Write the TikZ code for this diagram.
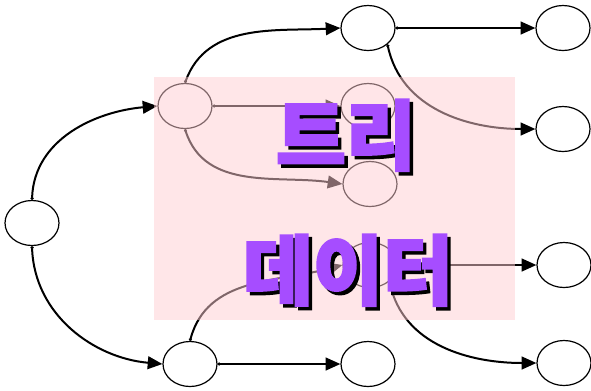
\documentclass[tikz,border=0pt]{standalone}
\usepackage{fontspec}
\newfontfamily\krfont{Noto Sans CJK KR}[BoldFeatures={FakeBold=3}]
\usetikzlibrary{shapes.geometric,arrows.meta}
\definecolor{overlaypink}{RGB}{255,205,210}
\definecolor{titlepurple}{RGB}{166,77,255}
\newcommand{\shadowed}[1]{\makebox[0pt][l]{\hspace{2.6pt}\raisebox{-2.6pt}{\color{black}#1}}{\color{titlepurple}#1}}
\tikzset{
  vtx/.style={ellipse,draw=black,line width=0.9pt,fill=white,minimum width=40.5pt,minimum height=33.75pt,inner sep=0pt},
  edge/.style={line width=1.5pt,{Circle[length=2.2pt]}-{Triangle[length=11pt,width=9.5pt]}},
  title/.style={font=\krfont\bfseries\fontsize{57}{62}\selectfont,inner sep=0pt}
}
\begin{document}
\begin{tikzpicture}[x=0.75pt,y=-0.75pt]
\useasboundingbox (0,0) rectangle (591,390);
% vertices
\node[vtx] (r)  at (32,223)  {};
\node[vtx] (a)  at (185,106) {};
\node[vtx] (b)  at (190,364) {};
\node[vtx] (t1) at (368,28)  {};
\node[vtx] (t2) at (563,28)  {};
\node[vtx] (m1) at (368,106) {};
\node[vtx] (m2) at (370,184) {};
\node[vtx] (d)  at (370,265) {};
\node[vtx] (q2) at (563,129) {};
\node[vtx] (q3) at (564,265) {};
\node[vtx] (b2) at (368,364) {};
\node[vtx] (b3) at (564,363) {};
% connectors
\draw[edge] (r.north) to[out=88,in=185] (a.west);
\draw[edge] (r.south) to[out=-88,in=175] (b.west);
\draw[edge] (a.north) to[out=70,in=183] (t1.west);
\draw[edge] (a.east) -- (m1.west);
\draw[edge] (a.south) to[out=-72,in=172] (m2.west);
\draw[edge] (t1.east) -- (t2.west);
\draw[edge] (t1.-40) to[out=-78,in=180] (q2.west);
\draw[edge] (b.north) to[out=75,in=195] (d.west);
\draw[edge] (b.east) -- (b2.west);
\draw[edge] (d.east) -- (q3.west);
\draw[edge] (d.-40) to[out=-78,in=180] (b3.west);
% translucent panel
\fill[overlaypink,opacity=0.5] (154,77) rectangle (515,320);
% title with drop shadow
\node[title] (w1) at (346,137) {\shadowed{트리}};
\node[title] (w2) at (348,272) {\shadowed{데이터}};
\end{tikzpicture}
\end{document}
